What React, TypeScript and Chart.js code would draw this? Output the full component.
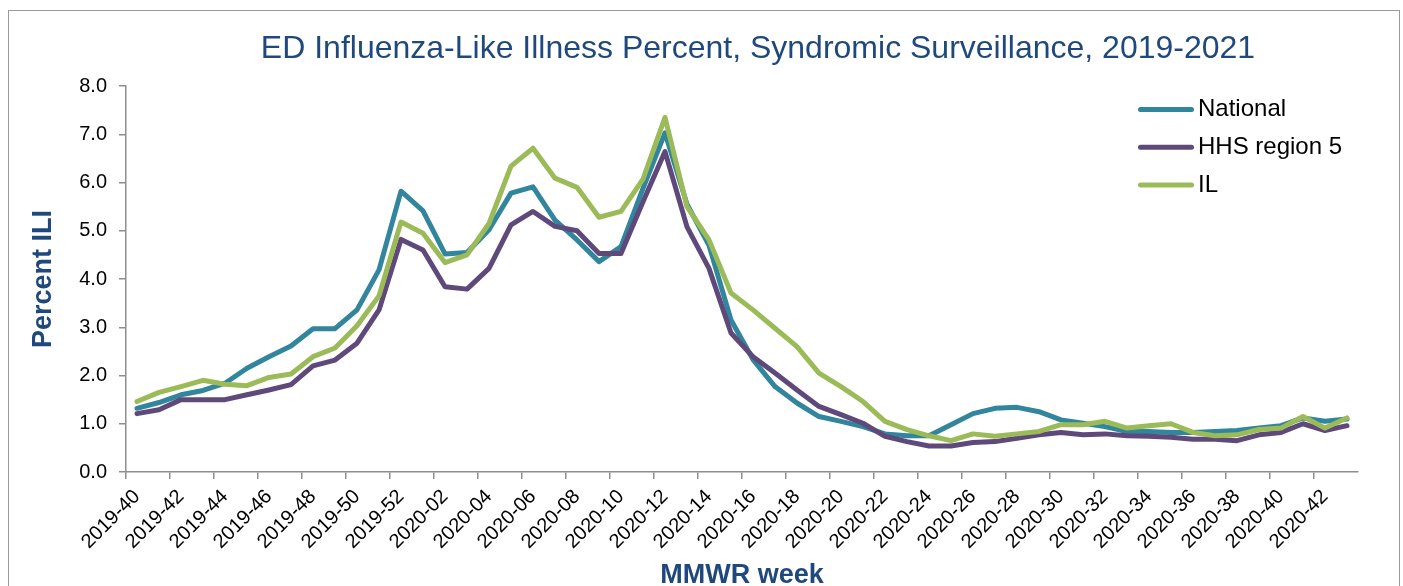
import React, { useEffect, useRef } from 'react';
import { Chart, registerables } from 'chart.js';

Chart.register(...registerables);

const weeks: string[] = [
  '2019-40', '2019-41', '2019-42', '2019-43', '2019-44', '2019-45', '2019-46', '2019-47',
  '2019-48', '2019-49', '2019-50', '2019-51', '2019-52',
  '2020-01', '2020-02', '2020-03', '2020-04', '2020-05', '2020-06', '2020-07', '2020-08',
  '2020-09', '2020-10', '2020-11', '2020-12', '2020-13', '2020-14', '2020-15', '2020-16',
  '2020-17', '2020-18', '2020-19', '2020-20', '2020-21', '2020-22', '2020-23', '2020-24',
  '2020-25', '2020-26', '2020-27', '2020-28', '2020-29', '2020-30', '2020-31', '2020-32',
  '2020-33', '2020-34', '2020-35', '2020-36', '2020-37', '2020-38', '2020-39', '2020-40',
  '2020-41', '2020-42', '2020-43',
];

const nationalValues: number[] = [
  1.32, 1.44, 1.60, 1.69, 1.84, 2.15, 2.39, 2.61, 2.97, 2.97, 3.36, 4.19, 5.82,
  5.41, 4.52, 4.55, 5.02, 5.78, 5.91, 5.22, 4.81, 4.36, 4.67, 5.88, 7.03, 5.55,
  4.70, 3.15, 2.33, 1.77, 1.43, 1.15, 1.05, 0.94, 0.79, 0.75, 0.75, 0.98, 1.21,
  1.32, 1.34, 1.25, 1.08, 1.01, 0.94, 0.84, 0.84, 0.82, 0.82, 0.84, 0.86, 0.91,
  0.96, 1.12, 1.05, 1.10,
];

const region5Values: number[] = [
  1.21, 1.29, 1.50, 1.50, 1.50, 1.60, 1.70, 1.81, 2.20, 2.32, 2.67, 3.36, 4.82,
  4.60, 3.84, 3.79, 4.22, 5.12, 5.40, 5.09, 5.00, 4.53, 4.53, 5.60, 6.64, 5.08,
  4.22, 2.88, 2.39, 2.05, 1.70, 1.36, 1.19, 1.01, 0.74, 0.63, 0.54, 0.54, 0.61,
  0.63, 0.70, 0.77, 0.82, 0.77, 0.79, 0.75, 0.74, 0.72, 0.68, 0.68, 0.65, 0.77,
  0.82, 1.00, 0.86, 0.96,
];

const ilValues: number[] = [
  1.46, 1.65, 1.77, 1.90, 1.82, 1.79, 1.96, 2.03, 2.39, 2.57, 3.03, 3.65, 5.18,
  4.95, 4.34, 4.50, 5.15, 6.34, 6.71, 6.09, 5.90, 5.28, 5.40, 6.07, 7.35, 5.50,
  4.81, 3.71, 3.36, 2.98, 2.60, 2.05, 1.77, 1.46, 1.05, 0.88, 0.75, 0.65, 0.79,
  0.74, 0.79, 0.84, 0.98, 0.98, 1.05, 0.91, 0.96, 1.00, 0.82, 0.75, 0.77, 0.88,
  0.91, 1.15, 0.91, 1.12,
];

const seriesLabels: string[] = ['National', 'HHS region 5', 'IL'];
const seriesColors: string[] = ['#31859C', '#5F497A', '#9BBB59'];
const seriesOrder: number[] = [2, 1, 0];

const chartTitle = 'ED Influenza-Like Illness Percent, Syndromic Surveillance, 2019-2021';
const xTitle = 'MMWR week';
const yTitle = 'Percent ILI';

const FONT = "'Liberation Sans', Arial, Helvetica, sans-serif";
const TITLE_COLOR = '#1F497D';
const AXIS_COLOR = '#8E8E8E';

const titlePlugin = {
  id: 'centeredTitle',
  afterDraw(chart: any) {
    const { ctx } = chart;
    ctx.save();
    ctx.font = `32px ${FONT}`;
    ctx.fillStyle = TITLE_COLOR;
    ctx.textAlign = 'center';
    ctx.textBaseline = 'middle';
    ctx.fillText(chartTitle, 758, 49);
    ctx.restore();
  },
};

const legendPlugin = {
  id: 'stackedLegend',
  afterDraw(chart: any) {
    const { ctx } = chart;
    const datasets = chart.data.datasets;
    ctx.save();
    datasets.forEach((ds: any, i: number) => {
      const y = 109.5 + i * 37.7;
      ctx.strokeStyle = ds.borderColor;
      ctx.lineWidth = 5;
      ctx.lineCap = 'round';
      ctx.beginPath();
      ctx.moveTo(1140.5, y);
      ctx.lineTo(1191.5, y);
      ctx.stroke();
      ctx.fillStyle = '#000';
      ctx.font = `24px ${FONT}`;
      ctx.textAlign = 'left';
      ctx.textBaseline = 'middle';
      ctx.fillText(ds.label, 1198, y);
    });
    ctx.restore();
  },
};

export default function App() {
  const canvasRef = useRef<HTMLCanvasElement | null>(null);

  useEffect(() => {
    if (!canvasRef.current) return;
    const valueSets = [nationalValues, region5Values, ilValues];
    const chart = new Chart(canvasRef.current, {
      type: 'line',
      data: {
        labels: weeks,
        datasets: valueSets.map((vals, i) => ({
          label: seriesLabels[i],
          data: vals,
          borderColor: seriesColors[i],
          backgroundColor: seriesColors[i],
          borderWidth: 5,
          pointRadius: 0,
          pointHoverRadius: 0,
          tension: 0,
          fill: false,
          borderJoinStyle: 'round' as const,
          borderCapStyle: 'round' as const,
          order: seriesOrder[i],
        })),
      },
      options: {
        animation: false,
        responsive: false,
        events: [],
        layout: { padding: { left: 0, right: 45, top: 86, bottom: 0 } },
        font: { family: FONT },
        plugins: {
          legend: { display: false },
          title: { display: false },
          tooltip: { enabled: false },
        },
        scales: {
          x: {
            type: 'category',
            offset: true,
            grid: {
              offset: true,
              drawOnChartArea: false,
              drawTicks: true,
              tickLength: 7,
              lineWidth: 1.5,
              color: AXIS_COLOR,
              tickColor: (c: any) => (c.index % 2 === 0 ? AXIS_COLOR : 'rgba(0,0,0,0)'),
            },
            border: { color: AXIS_COLOR, width: 1.5 },
            ticks: {
              autoSkip: false,
              maxRotation: 45,
              minRotation: 45,
              padding: 6,
              color: '#000',
              font: { family: FONT, size: 20 },
              callback: function (this: any, v: any, i: number) {
                return i % 2 === 0 ? this.getLabelForValue(v) : '';
              },
            },
            title: {
              display: true,
              text: xTitle,
              color: TITLE_COLOR,
              font: { family: FONT, size: 27, weight: 'bold' },
              padding: { top: 0, bottom: 0 },
            },
            afterFit: (s: any) => {
              s.height = 120;
            },
          },
          y: {
            min: 0,
            max: 8,
            ticks: {
              stepSize: 1,
              padding: 12,
              color: '#000',
              font: { family: FONT, size: 20 },
              callback: (v: any) => Number(v).toFixed(1),
            },
            grid: {
              drawOnChartArea: false,
              drawTicks: true,
              tickLength: 7,
              lineWidth: 1.5,
              color: AXIS_COLOR,
            },
            border: { color: AXIS_COLOR, width: 1.5 },
            title: {
              display: true,
              text: yTitle,
              color: TITLE_COLOR,
              font: { family: FONT, size: 27, weight: 'bold' },
              padding: { top: 27, bottom: 0 },
            },
            afterFit: (s: any) => {
              s.width = 126;
            },
          },
        },
      } as any,
      plugins: [titlePlugin, legendPlugin],
    });
    return () => chart.destroy();
  }, []);

  return (
    <div style={{ position: 'fixed', left: 0, top: 0, width: 1403, height: 592, background: '#fff' }}>
      <div
        style={{
          position: 'absolute',
          left: 8,
          top: 10,
          width: 1392,
          height: 620,
          border: '1px solid #9a9a9a',
          boxSizing: 'border-box',
        }}
      />
      <canvas
        ref={canvasRef}
        width={1403}
        height={592}
        style={{ position: 'absolute', left: 0, top: 0, display: 'block' }}
      />
    </div>
  );
}
